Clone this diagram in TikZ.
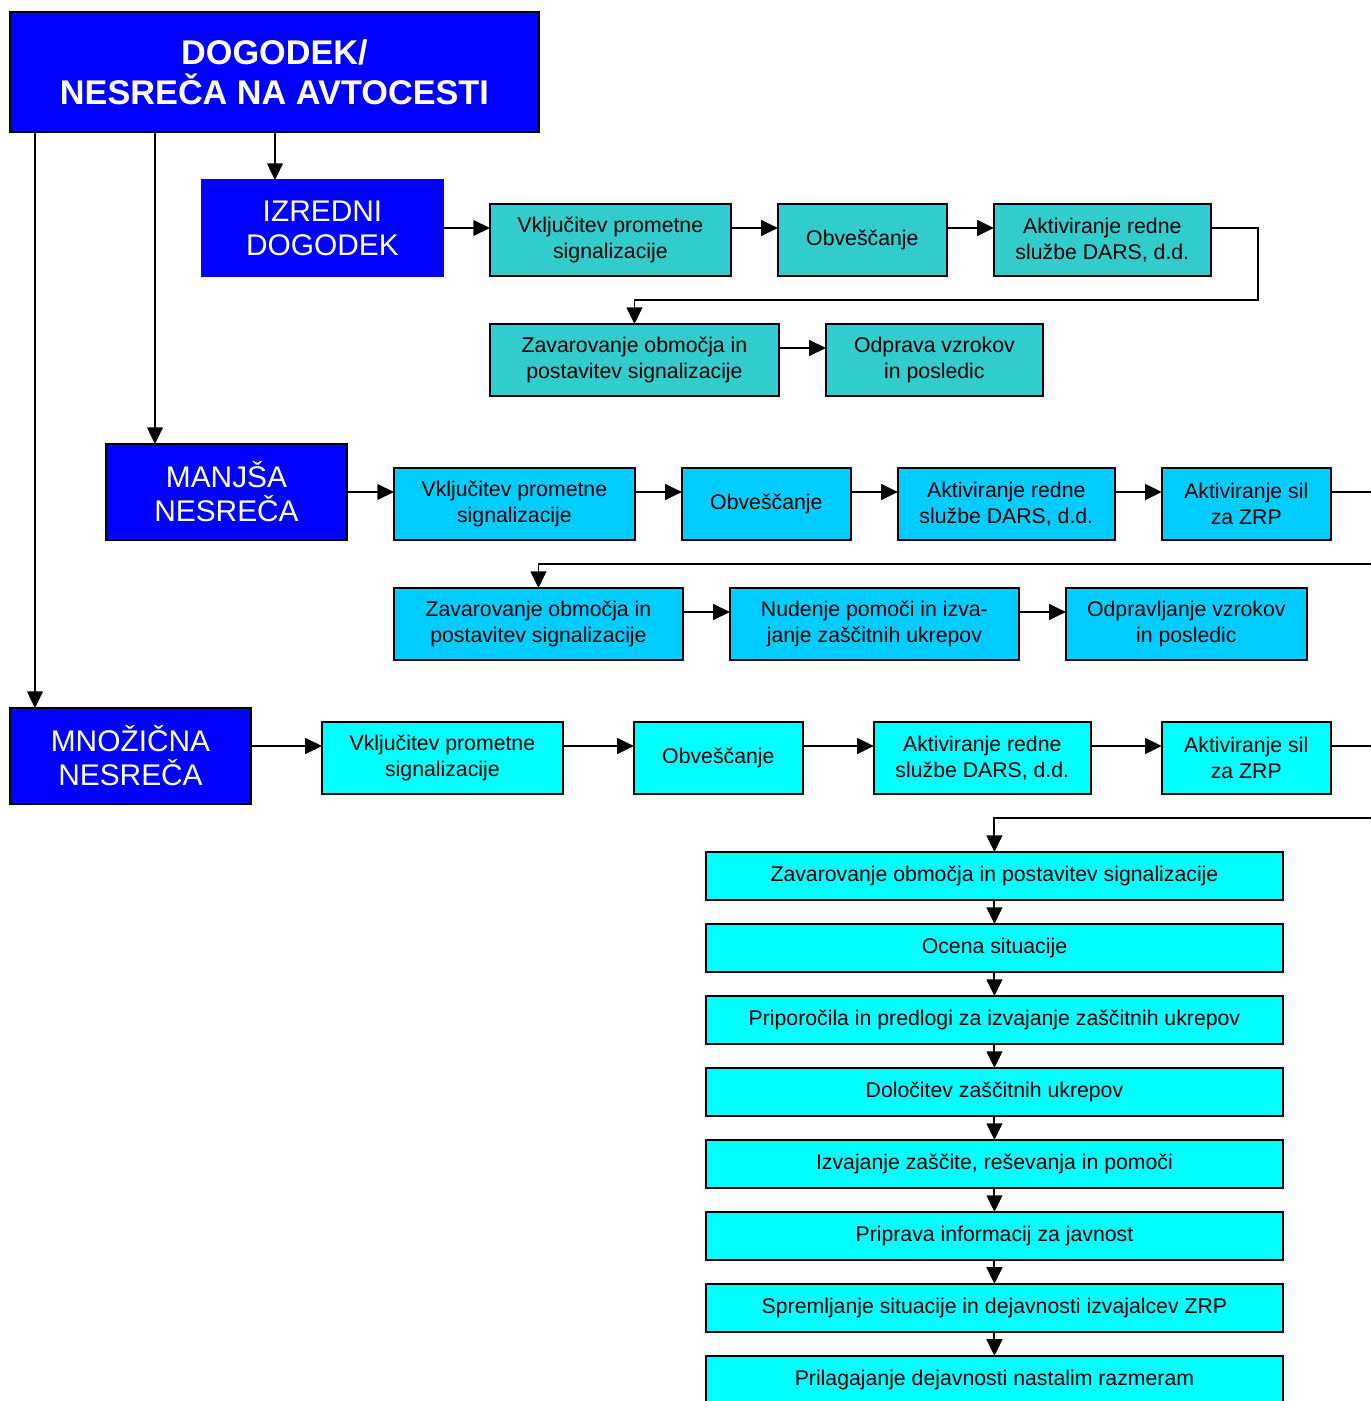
\documentclass[tikz,border=0pt]{standalone}
\usepackage{fontspec}
\setmainfont{Liberation Sans}
\usepackage{xcolor}
\usepackage{tikz}
\usetikzlibrary{arrows.meta, positioning}
\definecolor{evblue}{HTML}{0000FF}
\definecolor{izteal}{HTML}{33CCCC}
\definecolor{mansky}{HTML}{00CCFF}
\definecolor{mncyan}{HTML}{00FFFF}
\tikzset{
    mainevent/.style={
        rectangle,
        draw=black,
        line width=1.1pt,
        fill=evblue,
        text=white,
        align=center,
        outer sep=0pt,
        minimum width=10.58cm,
        minimum height=2.4cm,
        font=\fontsize{19.5}{22.7}\selectfont\bfseries
    },
    eventtype/.style={
        rectangle,
        draw=black,
        line width=1.1pt,
        fill=evblue,
        text=white,
        align=center,
        outer sep=0pt,
        minimum width=4.82cm,
        minimum height=1.92cm,
        font=\fontsize{17}{19.3}\selectfont
    },
    action/.style={
        rectangle,
        draw=black,
        line width=1.1pt,
        align=center,
        outer sep=0pt,
        inner sep=1pt,
        minimum height=1.44cm,
        font=\fontsize{12.1}{14.8}\selectfont
    },
    measure/.style={
        action,
        fill=mncyan,
        minimum width=11.54cm,
        minimum height=0.96cm
    },
    flow/.style={
        draw=black,
        line width=1.1pt,
        -{Triangle[length=9.5pt,width=9pt]}
    },
    link/.style={
        draw=black,
        line width=1.1pt
    }
}
\begin{document}
\begin{tikzpicture}[x=0.02cm, y=-0.02cm]
\clip (0,0) rectangle (1371,1401);

% Main event
\node[mainevent, anchor=north west] (dogodek) at (10,12) {DOGODEK/\\NESREČA NA AVTOCESTI};
\coordinate (edge) at (1371,0);

% Izredni dogodek
\node[eventtype, draw=evblue, anchor=north west] (izredni) at (202,180) {IZREDNI\\DOGODEK};
\node[action, fill=izteal, minimum width=4.82cm, right=0.94cm of izredni, yshift=-0.24cm] (vkl1) {Vključitev prometne\\signalizacije};
\node[action, fill=izteal, minimum width=3.38cm, right=0.94cm of vkl1] (obv1) {Obveščanje};
\node[action, fill=izteal, minimum width=4.34cm, right=0.94cm of obv1] (akt1) {Aktiviranje redne\\službe DARS, d.d.};
\node[action, fill=izteal, minimum width=5.78cm, anchor=north west] (zav1) at (490,324) {Zavarovanje območja in\\postavitev signalizacije};
\node[action, fill=izteal, minimum width=4.34cm, right=0.94cm of zav1] (odp1) {Odprava vzrokov\\in posledic};

\coordinate (izin) at ([xshift=-0.95cm]izredni.north);
\draw[flow] (dogodek.south -| izin) -- (izin);
\draw[flow] (izredni.east) -- (izredni.east -| vkl1.west);
\draw[flow] ([yshift=0.24cm]vkl1.east) -- ([yshift=0.24cm]obv1.west);
\draw[flow] ([yshift=0.24cm]obv1.east) -- ([yshift=0.24cm]akt1.west);
\draw[flow] ([yshift=0.24cm]akt1.east) -- ++(0.94cm,0) |- ([yshift=0.48cm]zav1.north) -- (zav1.north);
\draw[flow] ([yshift=0.24cm]zav1.east) -- ([yshift=0.24cm]odp1.west);

% Manjsa nesreca
\node[eventtype, anchor=north west] (manjsa) at (106,444) {MANJŠA\\NESREČA};
\node[action, fill=mansky, minimum width=4.82cm, right=0.94cm of manjsa, yshift=-0.24cm] (vkl2) {Vključitev prometne\\signalizacije};
\node[action, fill=mansky, minimum width=3.38cm, right=0.94cm of vkl2] (obv2) {Obveščanje};
\node[action, fill=mansky, minimum width=4.34cm, right=0.94cm of obv2] (akt2) {Aktiviranje redne\\službe DARS, d.d.};
\node[action, fill=mansky, minimum width=3.38cm, right=0.94cm of akt2] (sil2) {Aktiviranje sil\\za ZRP};
\node[action, fill=mansky, minimum width=5.78cm, anchor=north west] (zav2) at (394,588) {Zavarovanje območja in\\postavitev signalizacije};
\node[action, fill=mansky, minimum width=5.78cm, right=0.94cm of zav2] (nud2) {Nudenje pomoči in izva-\\janje zaščitnih ukrepov};
\node[action, fill=mansky, minimum width=4.82cm, right=0.94cm of nud2] (odp2) {Odpravljanje vzrokov\\in posledic};
\coordinate (ret2) at (1371,564);

\coordinate (manin) at ([xshift=-1.43cm]manjsa.north);
\draw[flow] (dogodek.south -| manin) -- (manin);
\draw[flow] (manjsa.east) -- (manjsa.east -| vkl2.west);
\draw[flow] ([yshift=0.24cm]vkl2.east) -- ([yshift=0.24cm]obv2.west);
\draw[flow] ([yshift=0.24cm]obv2.east) -- ([yshift=0.24cm]akt2.west);
\draw[flow] ([yshift=0.24cm]akt2.east) -- ([yshift=0.24cm]sil2.west);
\draw[link] ([yshift=0.24cm]sil2.east) -- ([yshift=0.24cm]sil2.east -| edge);
\draw[flow] (ret2) -| (zav2.north);
\draw[flow] ([yshift=0.24cm]zav2.east) -- ([yshift=0.24cm]nud2.west);
\draw[flow] ([yshift=0.24cm]nud2.east) -- ([yshift=0.24cm]odp2.west);

% Mnozicna nesreca
\node[eventtype, anchor=north west] (mnozicna) at (10,708) {MNOŽIČNA\\NESREČA};
\node[action, fill=mncyan, minimum width=4.82cm, right=1.42cm of mnozicna, yshift=-0.04cm] (vkl3) {Vključitev prometne\\signalizacije};
\node[action, fill=mncyan, minimum width=3.38cm, right=1.42cm of vkl3] (obv3) {Obveščanje};
\node[action, fill=mncyan, minimum width=4.34cm, right=1.42cm of obv3] (akt3) {Aktiviranje redne\\službe DARS, d.d.};
\node[action, fill=mncyan, minimum width=3.38cm, right=1.42cm of akt3] (sil3) {Aktiviranje sil\\za ZRP};
\coordinate (ret3) at (1371,818);

\coordinate (mnin) at ([xshift=-1.91cm]mnozicna.north);
\draw[flow] (dogodek.south -| mnin) -- (mnin);
\draw[flow] ([yshift=0.2cm]mnozicna.east) -- ([yshift=0.24cm]vkl3.west);
\draw[flow] ([yshift=0.24cm]vkl3.east) -- ([yshift=0.24cm]obv3.west);
\draw[flow] ([yshift=0.24cm]obv3.east) -- ([yshift=0.24cm]akt3.west);
\draw[flow] ([yshift=0.24cm]akt3.east) -- ([yshift=0.24cm]sil3.west);
\draw[link] ([yshift=0.24cm]sil3.east) -- ([yshift=0.24cm]sil3.east -| edge);

% Ukrepi
\node[measure, anchor=north west] (m1) at (706,852) {Zavarovanje območja in postavitev signalizacije};
\node[measure, below=0.48cm of m1] (m2) {Ocena situacije};
\node[measure, below=0.48cm of m2] (m3) {Priporočila in predlogi za izvajanje zaščitnih ukrepov};
\node[measure, below=0.48cm of m3] (m4) {Določitev zaščitnih ukrepov};
\node[measure, below=0.48cm of m4] (m5) {Izvajanje zaščite, reševanja in pomoči};
\node[measure, below=0.48cm of m5] (m6) {Priprava informacij za javnost};
\node[measure, below=0.48cm of m6] (m7) {Spremljanje situacije in dejavnosti izvajalcev ZRP};
\node[measure, below=0.48cm of m7] (m8) {Prilagajanje dejavnosti nastalim razmeram};

\draw[flow] (ret3) -| (m1.north);
\foreach \a/\b in {m1/m2, m2/m3, m3/m4, m4/m5, m5/m6, m6/m7, m7/m8}
    \draw[flow] (\a.south) -- (\b.north);

\end{tikzpicture}
\end{document}
